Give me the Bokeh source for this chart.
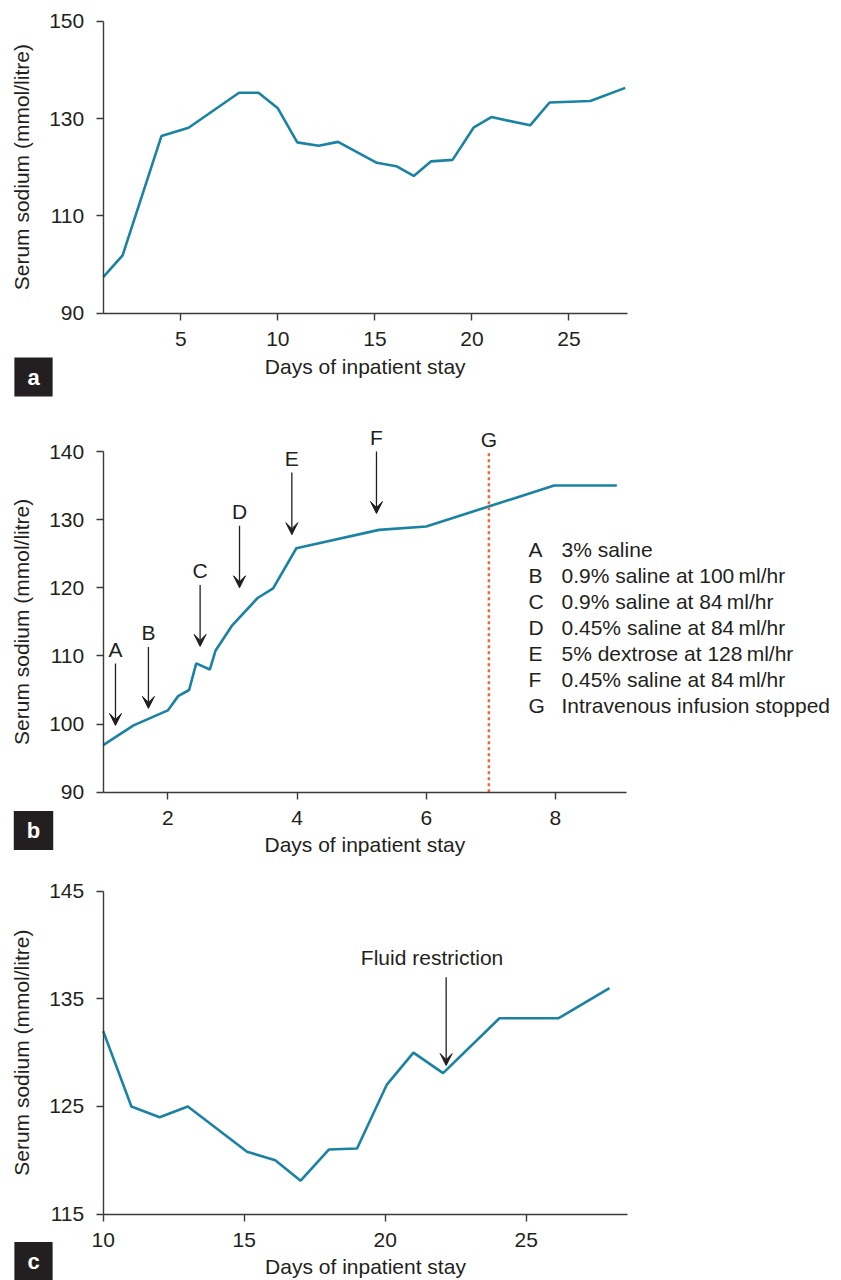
import math
from bokeh.plotting import figure
from bokeh.layouts import column
from bokeh.models import (Range1d, FixedTicker, Label, LabelSet, Arrow, VeeHead,
                          ColumnDataSource, LinearAxis, Grid)
from bokeh.core.properties import value
from bokeh.embed import file_html
from bokeh.resources import INLINE

FONT = "Liberation Sans"
INK = "#231f20"
AXIS = "#3a3a3a"
TEAL = "#1a82a3"
ORANGE = "#ef6a32"
W = 841

# ---------------- data ----------------
# Panel a: whole stay
days_a = [1, 2, 4, 5.4, 8, 9, 10, 11, 12.1, 13.1, 15.1, 16.1, 17, 17.9, 19, 20.1, 21, 23, 24, 26.1, 27.9]
sodium_a = [97.4, 101.9, 126.4, 128.1, 135.3, 135.3, 132.1, 125.1, 124.4, 125.2, 120.9, 120.2,
            118.2, 121.2, 121.5, 128.2, 130.3, 128.6, 133.3, 133.6, 136.3]
xticks_a = [5, 10, 15, 20, 25]
yticks_a = [90, 110, 130, 150]

# Panel b: first days with infusions
days_b = [1.0, 1.47, 2.0, 2.16, 2.33, 2.44, 2.65, 2.74, 2.99, 3.39, 3.63, 3.99, 5.27, 6.0, 7.98, 8.95]
sodium_b = [96.9, 99.8, 102.0, 104.1, 105.0, 108.9, 108.0, 110.8, 114.4, 118.5, 119.9, 125.8,
            128.5, 129.0, 135.0, 135.0]
xticks_b = [2, 4, 6, 8]
yticks_b = [90, 100, 110, 120, 130, 140]
event_letters = ["A", "B", "C", "D", "E", "F"]
event_days = [1.19, 1.70, 2.50, 3.11, 3.92, 5.23]
event_from = [108.9, 111.3, 120.4, 129.1, 136.9, 140.0]
event_to = [99.8, 102.3, 111.4, 120.0, 127.8, 130.9]
stop_letter = "G"
stop_day = 6.97
legend_letters = ["A", "B", "C", "D", "E", "F", "G"]
legend_texts = ["3% saline",
                "0.9% saline at 100\u2009ml/hr",
                "0.9% saline at 84\u2009ml/hr",
                "0.45% saline at 84\u2009ml/hr",
                "5% dextrose at 128\u2009ml/hr",
                "0.45% saline at 84\u2009ml/hr",
                "Intravenous infusion stopped"]

# Panel c: later days
days_c = [10, 11, 12, 13, 15.1, 16.1, 17, 18, 19, 20.05, 21, 22.05, 24.05, 26.15, 27.95]
sodium_c = [132.0, 125.0, 124.0, 125.0, 120.8, 120.0, 118.1, 121.0, 121.1, 127.0, 130.0, 128.1,
            133.2, 133.2, 136.0]
xticks_c = [10, 15, 20, 25]
yticks_c = [115, 125, 135, 145]
restriction_text = "Fluid restriction"
restriction_day = 22.16
restriction_from = 137.0
restriction_to = 128.8

X_LABEL = "Days of inpatient stay"
Y_LABEL = "Serum sodium (mmol/litre)"


class Panel:
    def __init__(self, fig_top, fig_h, box, xr, yr, xt, yt):
        left, right, top, bottom = box
        self.fig_top, self.fig_h = fig_top, fig_h
        self.box = box
        kx = (xr[1] - xr[0]) / (right - left)
        ky = (yr[1] - yr[0]) / (bottom - top)
        x0 = xr[0] - left * kx
        x1 = xr[1] + (W - right) * kx
        y1 = yr[1] + (top - fig_top) * ky
        y0 = yr[0] - (fig_top + fig_h - bottom) * ky
        p = figure(width=W, height=fig_h, x_range=Range1d(x0, x1), y_range=Range1d(y0, y1),
                   x_axis_location=None, y_axis_location=None, min_border=0,
                   output_backend="svg", toolbar_location=None)
        p.outline_line_color = None
        p.background_fill_color = "white"
        p.border_fill_color = "white"
        xa = LinearAxis(fixed_location=yr[0], bounds=xr, ticker=FixedTicker(ticks=xt))
        ya = LinearAxis(fixed_location=xr[0], bounds=yr, ticker=FixedTicker(ticks=yt))
        for ax in (xa, ya):
            ax.axis_line_color = AXIS
            ax.axis_line_width = 1.4
            ax.major_tick_line_color = AXIS
            ax.major_tick_line_width = 1.4
            ax.major_tick_out = 7
            ax.major_tick_in = 0
            ax.minor_tick_out = 0
            ax.minor_tick_in = 0
            ax.major_label_text_font = FONT
            ax.major_label_text_font_size = "21px"
            ax.major_label_text_color = INK
        xa.major_label_standoff = 12
        ya.major_label_standoff = 12
        p.add_layout(xa, "below")
        p.add_layout(ya, "left")
        for r in list(p.center):
            if isinstance(r, Grid):
                r.visible = False
                r.grid_line_color = None
        self.p = p

    def sx(self, px):
        return px

    def sy(self, py):
        return self.fig_top + self.fig_h - py

    def text(self, px, py, txt, size="21px", align="center", angle=0.0, **kw):
        self.p.add_layout(Label(x=self.sx(px), y=self.sy(py), x_units="screen", y_units="screen",
                                text=txt, text_font=FONT, text_font_size=size,
                                text_color=kw.pop("color", INK), text_align=align,
                                text_baseline="middle", angle=angle, **kw))

    def labels(self, label_y):
        left, right, top, bottom = self.box
        self.text((left + right) / 2, label_y, X_LABEL)
        self.text(21, (top + bottom) / 2, Y_LABEL, angle=math.pi / 2)

    def tag(self, letter, cy):
        self.p.add_layout(Label(x=self.sx(33), y=self.sy(cy), x_units="screen", y_units="screen",
                                text=letter, text_font=FONT, text_font_size="22px",
                                text_font_style="bold", text_color="white",
                                text_align="center", text_baseline="middle",
                                background_fill_color=INK,
                                padding=dict(left=13, right=13, top=7, bottom=7)))


# ---------------- panel a ----------------
A = Panel(0, 400, (102.7, 626.7, 20.7, 312.7), (1, 28), (90, 150), xticks_a, yticks_a)
A.p.line(days_a, sodium_a, line_color=TEAL, line_width=2.6)
A.labels(366)
A.tag("a", 376.5)

# ---------------- panel b ----------------
B = Panel(400, 462, (102.7, 626.0, 451.0, 791.7), (1, 9.1), (90, 140), xticks_b, yticks_b)
pb = B.p
pb.line(days_b, sodium_b, line_color=TEAL, line_width=2.6)
pb.segment(x0=[stop_day], y0=[90], x1=[stop_day], y1=[140], line_color=ORANGE,
           line_width=2.5, line_dash="3 3")
ev = ColumnDataSource(dict(x=event_days, y0=event_from, y1=event_to,
                           ly=[v + 2.1 for v in event_from], t=event_letters))
pb.add_layout(Arrow(x_start="x", y_start="y0", x_end="x", y_end="y1", source=ev,
                    line_color=INK, line_width=1.3,
                    end=VeeHead(size=12, fill_color=INK, line_color=INK, line_width=1)))
pb.add_layout(LabelSet(x="x", y="ly", text="t", source=ev, text_align="center",
                       text_baseline="middle", text_font=value(FONT),
                       text_font_size="21px", text_color=INK))
pb.add_layout(Label(x=stop_day, y=141.7, text=stop_letter, text_align="center",
                    text_baseline="middle", text_font=FONT, text_font_size="21px",
                    text_color=INK))
for i, (lt, tx) in enumerate(zip(legend_letters, legend_texts)):
    yy = 549 + 26 * i
    B.text(528, yy, lt, align="left")
    B.text(561, yy, tx, align="left")
B.labels(844)
B.tag("b", 830)

# ---------------- panel c ----------------
C = Panel(862, 418, (102.7, 627.3, 890.7, 1213.6), (10, 28.6), (115, 145), xticks_c, yticks_c)
pc = C.p
pc.line(days_c, sodium_c, line_color=TEAL, line_width=2.6)
pc.add_layout(Arrow(x_start=restriction_day, y_start=restriction_from,
                    x_end=restriction_day, y_end=restriction_to,
                    line_color=INK, line_width=1.3,
                    end=VeeHead(size=12, fill_color=INK, line_color=INK, line_width=1)))
pc.add_layout(Label(x=21.66, y=138.8, text=restriction_text, text_align="center",
                    text_baseline="middle", text_font=FONT, text_font_size="21px",
                    text_color=INK))
C.labels(1266)
C.tag("c", 1261)

layout = column(A.p, B.p, C.p, spacing=0)
open("out.html", "w").write(file_html(layout, INLINE))
